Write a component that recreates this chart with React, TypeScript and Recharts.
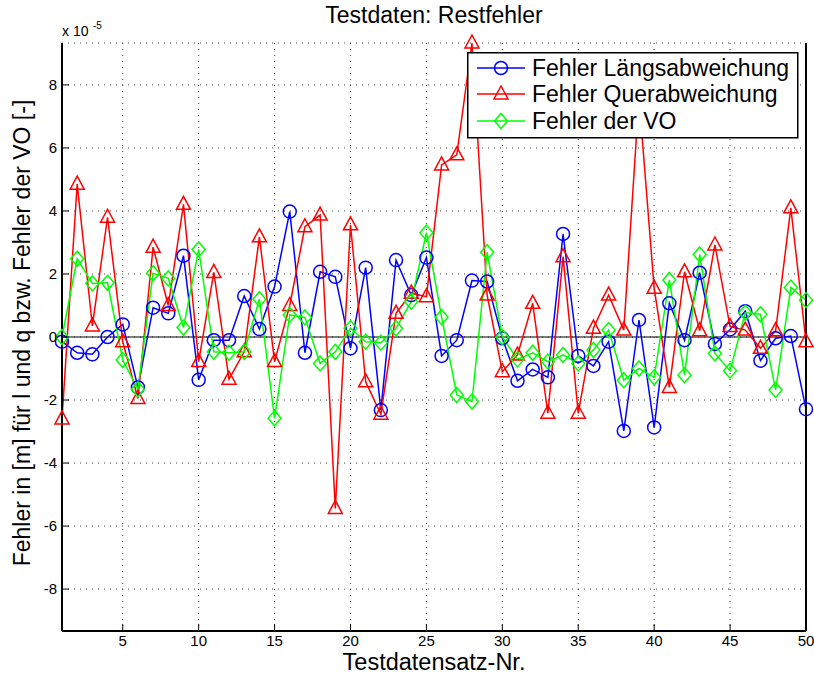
import React from 'react';
import { LineChart, Line, XAxis, YAxis, CartesianGrid, ReferenceLine, Legend } from 'recharts';

const testIds = [1,2,3,4,5,6,7,8,9,10,11,12,13,14,15,16,17,18,19,20,21,22,23,24,25,26,27,28,29,30,31,32,33,34,35,36,37,38,39,40,41,42,43,44,45,46,47,48,49,50];

const laengs = [-0.15,-0.5,-0.55,0.0,0.4,-1.6,0.93,0.75,2.58,-1.36,-0.1,-0.1,1.3,0.25,1.6,3.98,-0.5,2.07,1.91,-0.36,2.2,-2.32,2.44,1.33,2.52,-0.6,-0.1,1.79,1.76,-0.04,-1.39,-1.03,-1.28,3.27,-0.6,-0.92,-0.15,-2.98,0.54,-2.87,1.07,-0.1,2.04,-0.22,0.24,0.82,-0.75,-0.04,0.03,-2.29];

const quer = [-2.6,4.85,0.35,3.8,-0.15,-1.95,2.85,1.0,4.21,-0.78,2.05,-1.34,-0.47,3.18,-0.78,1.0,3.5,3.87,-5.44,3.56,-1.42,-2.45,0.75,1.39,1.28,5.46,5.78,9.33,1.33,-1.1,-0.57,1.07,-2.42,2.55,-2.42,0.28,1.33,0.22,7.6,1.55,-1.6,2.07,0.2,2.92,0.33,0.22,-0.36,0.2,4.1,-0.15];

const vo = [0.0,2.48,1.7,1.72,-0.73,-1.66,2.02,1.86,0.3,2.78,-0.47,-0.5,-0.47,1.2,-2.58,0.7,0.62,-0.84,-0.47,0.28,-0.15,-0.18,0.28,1.12,3.31,0.63,-1.84,-2.05,2.69,0.0,-0.71,-0.5,-0.78,-0.57,-0.84,-0.41,0.22,-1.37,-1.0,-1.28,1.81,-1.21,2.62,-0.52,-1.07,0.77,0.72,-1.68,1.57,1.17];

const xTicks = [5,10,15,20,25,30,35,40,45,50];
const yTicks = [-8,-6,-4,-2,0,2,4,6,8];
const yLimit = 9.33;

const seriesNames = ['Fehler Längsabweichung', 'Fehler Querabweichung', 'Fehler der VO'];
const titleText = 'Testdaten: Restfehler';
const xLabelText = 'Testdatensatz-Nr.';
const yLabelText = 'Fehler in [m] für l und q bzw. Fehler der VO [-]';
const BLUE = '#0000ff';
const RED = '#ff0000';
const GREEN = '#00ff00';

const data = testIds.map((id, i) => ({ id, l: laengs[i], q: quer[i], v: vo[i] }));

const FONT = '"Liberation Sans", Arial, Helvetica, sans-serif';

const CircleMark = ({ cx, cy, color }: any) => (
  <circle cx={cx} cy={cy} r={6.5} fill="none" stroke={color} strokeWidth={1.5} />
);
const TriMark = ({ cx, cy, color }: any) => (
  <polygon points={`${cx},${cy - 8} ${cx - 7},${cy + 5} ${cx + 7},${cy + 5}`} fill="none" stroke={color} strokeWidth={1.5} />
);
const DiaMark = ({ cx, cy, color }: any) => (
  <polygon points={`${cx},${cy - 7.5} ${cx + 6.5},${cy} ${cx},${cy + 7.5} ${cx - 6.5},${cy}`} fill="none" stroke={color} strokeWidth={1.5} />
);

const BottomTick = (props: any) => {
  const { x, y, payload } = props;
  return (
    <g>
      <line x1={x} y1={y} x2={x} y2={y - 7} stroke="#000" strokeWidth={1} />
      <text x={x} y={y + 15} textAnchor="middle" fontSize={15} fontFamily={FONT} fill="#000">{payload.value}</text>
    </g>
  );
};
const TopTick = (props: any) => {
  const { x, y } = props;
  return <line x1={x} y1={y} x2={x} y2={y + 7} stroke="#000" strokeWidth={1} />;
};
const LeftTick = (props: any) => {
  const { x, y, payload } = props;
  return (
    <g>
      <line x1={x} y1={y} x2={x + 7} y2={y} stroke="#000" strokeWidth={1} />
      <text x={x - 5} y={y + 5} textAnchor="end" fontSize={15} fontFamily={FONT} fill="#000">{payload.value}</text>
    </g>
  );
};
const RightTick = (props: any) => {
  const { x, y } = props;
  return <line x1={x} y1={y} x2={x - 7} y2={y} stroke="#000" strokeWidth={1} />;
};

const LegendBox = () => {
  const rows = [
    { name: seriesNames[0], color: BLUE, Mark: CircleMark, y: 16 },
    { name: seriesNames[1], color: RED, Mark: TriMark, y: 42 },
    { name: seriesNames[2], color: GREEN, Mark: DiaMark, y: 69 },
  ];
  return (
    <svg width={332} height={87} style={{ display: 'block' }}>
      <rect x={0.75} y={0.75} width={330} height={85} fill="#fff" stroke="#000" strokeWidth={1.5} />
      {rows.map((r) => (
        <g key={r.name}>
          <line x1={10} y1={r.y} x2={58} y2={r.y} stroke={r.color} strokeWidth={1.5} />
          <r.Mark cx={34} cy={r.y} color={r.color} />
          <text x={65} y={r.y + 8} fontSize={23} fontFamily={FONT} fill="#000">{r.name}</text>
        </g>
      ))}
    </svg>
  );
};

export default function App() {
  return (
    <div style={{ position: 'absolute', left: 0, top: 0, width: 814, height: 680, background: '#fff', fontFamily: FONT }}>
      <LineChart width={814} height={680} data={data} margin={{ top: 43, right: 0, bottom: 19, left: 0 }}>
        <CartesianGrid stroke="#444" strokeDasharray="1 5" strokeWidth={1} />
        <XAxis dataKey="id" type="number" domain={[1, 50]} ticks={xTicks} height={30} axisLine={{ stroke: '#000', strokeWidth: 2 }}
          tickLine={false} tickSize={0} tickMargin={0} tick={<BottomTick />} interval={0} />
        <XAxis xAxisId="top" orientation="top" dataKey="id" type="number" domain={[1, 50]} ticks={xTicks} height={0}
          axisLine={{ stroke: '#000', strokeWidth: 2 }} tickLine={false} tickSize={0} tickMargin={0} tick={<TopTick />} interval={0} />
        <YAxis type="number" domain={[-yLimit, yLimit]} ticks={yTicks} width={62} axisLine={{ stroke: '#000', strokeWidth: 2 }}
          tickLine={false} tickSize={0} tickMargin={0} tick={<LeftTick />} interval={0} />
        <YAxis yAxisId="right" orientation="right" type="number" domain={[-yLimit, yLimit]} ticks={yTicks} width={8}
          axisLine={{ stroke: '#000', strokeWidth: 2 }} tickLine={false} tickSize={0} tickMargin={0} tick={<RightTick />} interval={0} />
        <ReferenceLine y={0} stroke="#000" strokeWidth={1} />
        <Line dataKey="l" name={seriesNames[0]} stroke={BLUE} strokeWidth={1.5} isAnimationActive={false}
          dot={(p: any) => <CircleMark key={`l${p.index}`} cx={p.cx} cy={p.cy} color={BLUE} />} />
        <Line dataKey="q" name={seriesNames[1]} stroke={RED} strokeWidth={1.5} isAnimationActive={false}
          dot={(p: any) => <TriMark key={`q${p.index}`} cx={p.cx} cy={p.cy} color={RED} />} />
        <Line dataKey="v" name={seriesNames[2]} stroke={GREEN} strokeWidth={1.5} isAnimationActive={false}
          dot={(p: any) => <DiaMark key={`v${p.index}`} cx={p.cx} cy={p.cy} color={GREEN} />} />
        <Legend layout="vertical" align="center" verticalAlign="middle" content={<LegendBox />}
          wrapperStyle={{ position: 'absolute', left: 467, top: 52, width: 332, height: 87 }} />
      </LineChart>
      <svg width={814} height={680} style={{ position: 'absolute', left: 0, top: 0, pointerEvents: 'none' }}>
        <text x={434} y={23} textAnchor="middle" fontSize={23} fontFamily={FONT} fill="#000">{titleText}</text>
        <text x={434} y={670} textAnchor="middle" fontSize={23.5} fontFamily={FONT} fill="#000">{xLabelText}</text>
        <text x={30} y={333} transform="rotate(-90 30 333)" textAnchor="middle" fontSize={23} fontFamily={FONT} fill="#000">{yLabelText}</text>
        <text x={62} y={36} fontSize={14} fontFamily={FONT} fill="#000">x 10</text>
        <text x={93} y={29} fontSize={10} fontFamily={FONT} fill="#000">-5</text>
      </svg>
    </div>
  );
}
